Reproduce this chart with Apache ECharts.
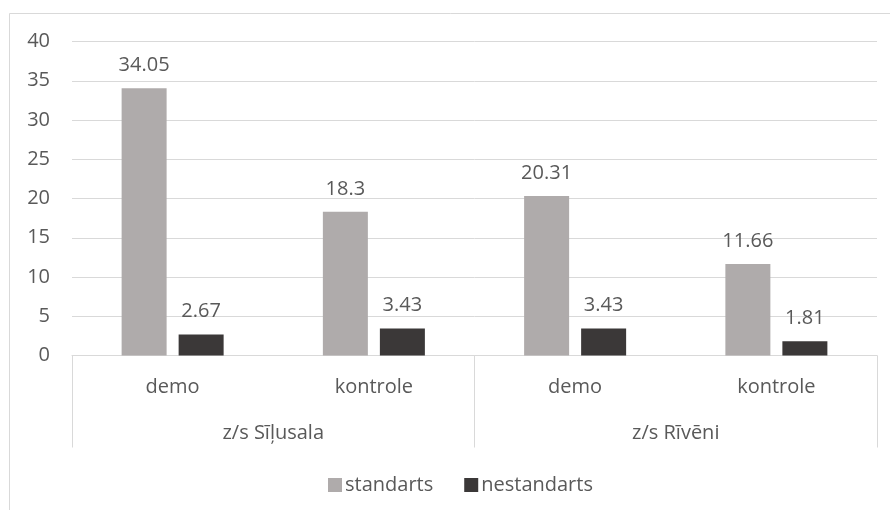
<!DOCTYPE html>
<html>
<head>
<meta charset="utf-8">
<script src="https://cdn.jsdelivr.net/npm/echarts@6/dist/echarts.min.js"></script>
<style>html,body{margin:0;padding:0;background:#fff}#c{width:890px;height:510px}</style>
</head>
<body>
<div id="c"></div>
<script>
var categories = ['demo', 'kontrole', 'demo', 'kontrole'];
var groups = ['z/s Sīļusala', 'z/s Rīvēni'];
var seriesNames = ['standarts', 'nestandarts'];
var standarts = [34.05, 18.3, 20.31, 11.66];
var nestandarts = [2.67, 3.43, 3.43, 1.81];

var FONT = 'Open Sans';
var FS = 20;
var TXT = '#595959';
var GRID = '#D9D9D9';

var chart = echarts.init(document.getElementById('c'), null, {renderer: 'canvas'});
chart.setOption({
  animation: false,
  backgroundColor: '#fff',
  textStyle: {fontFamily: FONT},
  graphic: [{
    type: 'rect', z: -1,
    shape: {x: 9.5, y: 13.5, width: 900, height: 520},
    style: {fill: 'none', stroke: GRID, lineWidth: 1}
  }],
  grid: {left: 72, right: 13, top: 41.5, bottom: 154.5, containLabel: false},
  legend: {
    left: 323, top: 470,
    itemWidth: 14, itemHeight: 14, itemGap: 31,
    icon: 'rect',
    textStyle: {color: TXT, fontSize: FS, fontFamily: FONT, padding: [0, 0, 0, -2]},
    data: seriesNames
  },
  xAxis: [{
    type: 'category', data: categories, position: 'bottom',
    axisLine: {show: true, lineStyle: {color: GRID, width: 1}},
    axisTick: {show: false},
    axisLabel: {color: TXT, fontSize: FS, fontFamily: FONT, margin: 22, interval: 0}
  }, {
    type: 'category', data: groups, position: 'bottom',
    axisLine: {show: false},
    axisTick: {show: true, length: 92, alignWithLabel: false, lineStyle: {color: GRID, width: 1}},
    axisLabel: {color: TXT, fontSize: FS, fontFamily: FONT, margin: 68, interval: 0}
  }],
  yAxis: {
    type: 'value', min: 0, max: 40, interval: 5,
    axisLine: {show: false}, axisTick: {show: false},
    splitLine: {lineStyle: {color: GRID, width: 1}},
    axisLabel: {color: TXT, fontSize: FS, fontFamily: FONT, margin: 22}
  },
  series: [{
    name: seriesNames[0], type: 'bar', data: standarts, xAxisIndex: 0,
    barWidth: 45, barGap: '26.7%',
    itemStyle: {color: '#AFABAB'},
    label: {show: true, position: 'top', distance: 13, color: TXT, fontSize: FS, fontFamily: FONT}
  }, {
    name: seriesNames[1], type: 'bar', data: nestandarts, xAxisIndex: 0,
    barWidth: 45, barGap: '26.7%',
    itemStyle: {color: '#3B3838'},
    label: {show: true, position: 'top', distance: 13, color: TXT, fontSize: FS, fontFamily: FONT}
  }]
});
</script>
</body>
</html>
